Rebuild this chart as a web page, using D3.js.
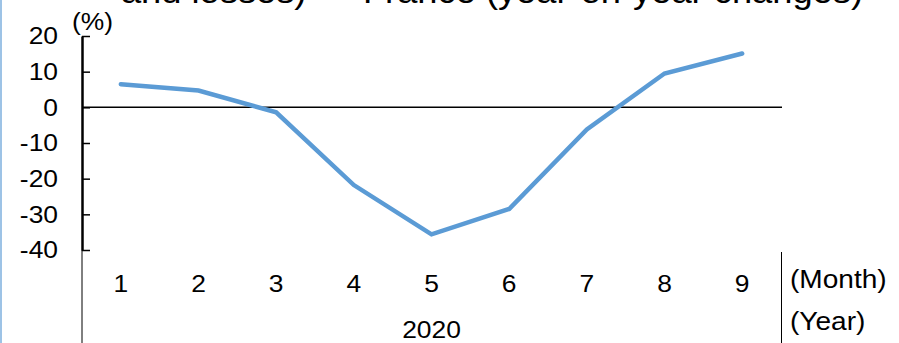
<!DOCTYPE html>
<html>
<head>
<meta charset="utf-8">
<script src="https://cdn.jsdelivr.net/npm/d3@7"></script>
<style>
  html, body { margin: 0; padding: 0; background: #fff; }
  #main-chart { width: 899px; height: 343px; }
  text { font-family: Arial, "Liberation Sans", sans-serif; fill: #000; }
</style>
</head>
<body>
<div id="main-chart"></div>
<script>
// values
const months = ["1", "2", "3", "4", "5", "6", "7", "8", "9"];
const changes = [6.5, 4.7, -1.4, -21.8, -35.6, -28.5, -6.2, 9.5, 15.1];
const yTicks = [20, 10, 0, -10, -20, -30, -40];
const yearLabel = "2020";
const titleText = "and losses) \u2014 France (year-on-year changes)";

const width = 899;
const height = 343;

// the reference text looks a bit wider than plain Arial, so stretch it a little
const fontSize = 24;
const stretch = 1.1;

// plot frame (named so they don't clash with window.top)
const plotLeft = 82;
const plotRight = 781;
const plotTop = 36;
const plotBottom = 250;

const svg = d3
  .select("#main-chart")
  .append("svg")
  .attr("width", width)
  .attr("height", height);

// helper for a plain text label
function addText(x, y, str, size, anchor) {
  return svg
    .append("text")
    .attr("transform", `translate(${x},${y}) scale(${stretch},1)`)
    .attr("text-anchor", anchor || "start")
    .style("font-size", size + "px")
    .text(str);
}

// light blue border on the left edge of the box
svg
  .append("rect")
  .attr("x", 0)
  .attr("y", 0)
  .attr("width", 2)
  .attr("height", height)
  .attr("fill", "#9dc3e6");

// title, mostly cut off at the top of the picture
addText(863, 2.5, titleText, 33, "end");

const x = d3.scaleBand().domain(months).range([plotLeft, plotRight]).padding(0);
const y = d3.scaleLinear().domain([-40, 20]).range([plotBottom, plotTop]);

// y axis, ticks pointing into the plot
const yAxis = svg
  .append("g")
  .attr("transform", `translate(${plotLeft},0)`)
  .call(
    d3
      .axisLeft(y)
      .tickValues(yTicks)
      .tickSizeInner(-8)
      .tickSizeOuter(0)
      .tickPadding(24)
      .tickFormat(function (d) {
        return String(d); // plain hyphen, not the unicode minus
      })
  );
yAxis.select(".domain").attr("stroke", "#000").attr("stroke-width", 2.5);
yAxis.selectAll(".tick line").attr("stroke", "#000").attr("stroke-width", 1.5);
yAxis
  .selectAll(".tick text")
  .attr("x", 0)
  .attr("transform", `translate(-24,0) scale(${stretch},1)`)
  .style("font-size", fontSize + "px")
  .attr("fill", "#000")
  .attr("font-family", null);

// unit label
addText(72, 30, "(%)", fontSize);

// zero line
svg
  .append("line")
  .attr("x1", plotLeft)
  .attr("x2", plotRight + 1)
  .attr("y1", y(0))
  .attr("y2", y(0))
  .attr("stroke", "#000")
  .attr("stroke-width", 1.5);

// month labels
const xAxis = svg
  .append("g")
  .attr("transform", `translate(0,262)`)
  .call(d3.axisBottom(x).tickSize(0).tickPadding(13));
xAxis.select(".domain").remove();
xAxis
  .selectAll(".tick text")
  .attr("transform", `scale(${stretch},1)`)
  .style("font-size", fontSize + "px")
  .attr("fill", "#000")
  .attr("font-family", null);

// year label under the months
addText((plotLeft + plotRight) / 2, 338, yearLabel, fontSize, "middle");

addText(790, 288, "(Month)", 25.5);
addText(790, 330, "(Year)", 25.5);

// category separators below the plot
svg
  .append("line")
  .attr("x1", plotLeft)
  .attr("x2", plotLeft)
  .attr("y1", plotBottom)
  .attr("y2", height)
  .attr("stroke", "#000")
  .attr("stroke-width", 1);

svg
  .append("line")
  .attr("x1", plotRight + 0.5)
  .attr("x2", plotRight + 0.5)
  .attr("y1", plotBottom + 2)
  .attr("y2", height)
  .attr("stroke", "#000")
  .attr("stroke-width", 1);

// the data line
const line = d3
  .line()
  .x(function (d, i) {
    return x(months[i]) + x.bandwidth() / 2;
  })
  .y(function (d) {
    return y(d);
  });

svg
  .append("path")
  .datum(changes)
  .attr("d", line)
  .attr("fill", "none")
  .attr("stroke", "#5b9bd5")
  .attr("stroke-width", 4.5)
  .attr("stroke-linecap", "round")
  .attr("stroke-linejoin", "miter");
</script>
</body>
</html>
